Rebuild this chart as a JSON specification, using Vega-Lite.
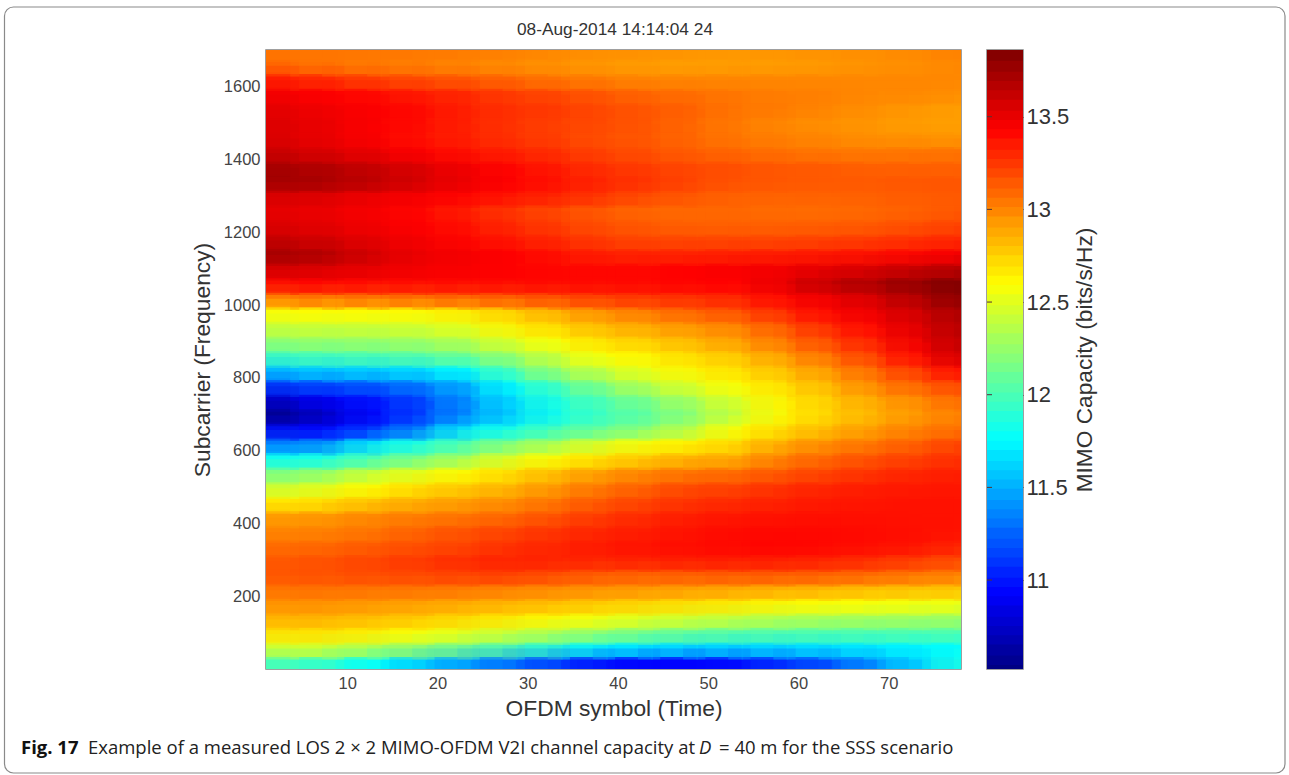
{"$schema":"https://vega.github.io/schema/vega-lite/v6.json","padding":{"left":3,"top":5,"right":3,"bottom":1},"background":"white","bounds":"flush","spacing":26,
"config":{"view":{"stroke":"#808080","strokeWidth":1.5},"font":"Liberation Sans"},
"datasets":{"levels":[{"c":10.53},{"c":10.58},{"c":10.63},{"c":10.69},{"c":10.74},{"c":10.79},{"c":10.84},{"c":10.9},{"c":10.95},{"c":11.0},{"c":11.05},{"c":11.11},{"c":11.16},{"c":11.21},{"c":11.26},{"c":11.32},{"c":11.37},{"c":11.42},{"c":11.47},{"c":11.53},{"c":11.58},{"c":11.63},{"c":11.68},{"c":11.74},{"c":11.79},{"c":11.84},{"c":11.89},{"c":11.95},{"c":12.0},{"c":12.05},{"c":12.1},{"c":12.16},{"c":12.21},{"c":12.26},{"c":12.31},{"c":12.37},{"c":12.42},{"c":12.47},{"c":12.52},{"c":12.58},{"c":12.63},{"c":12.68},{"c":12.73},{"c":12.79},{"c":12.84},{"c":12.89},{"c":12.94},{"c":13.0},{"c":13.05},{"c":13.1},{"c":13.15},{"c":13.21},{"c":13.26},{"c":13.31},{"c":13.36},{"c":13.42},{"c":13.47},{"c":13.52},{"c":13.57},{"c":13.63},{"c":13.68},{"c":13.73},{"c":13.78},{"c":13.84}],
"cells":[
{"x":3,"y":20,"v":12.0},{"x":8,"y":20,"v":11.92},{"x":13,"y":20,"v":11.78},{"x":18,"y":20,"v":11.6},{"x":23,"y":20,"v":11.45},{"x":28,"y":20,"v":11.3},{"x":33,"y":20,"v":11.15},{"x":38,"y":20,"v":11.0},{"x":43,"y":20,"v":10.95},{"x":48,"y":20,"v":10.95},{"x":53,"y":20,"v":10.98},{"x":58,"y":20,"v":11.1},{"x":63,"y":20,"v":11.2},{"x":68,"y":20,"v":11.4},{"x":73,"y":20,"v":11.62},{"x":78,"y":20,"v":11.85},
{"x":3,"y":60,"v":12.52},{"x":8,"y":60,"v":12.47},{"x":13,"y":60,"v":12.38},{"x":18,"y":60,"v":12.28},{"x":23,"y":60,"v":12.15},{"x":28,"y":60,"v":12.03},{"x":33,"y":60,"v":11.9},{"x":38,"y":60,"v":11.78},{"x":43,"y":60,"v":11.72},{"x":48,"y":60,"v":11.68},{"x":53,"y":60,"v":11.67},{"x":58,"y":60,"v":11.68},{"x":63,"y":60,"v":11.7},{"x":68,"y":60,"v":11.72},{"x":73,"y":60,"v":11.75},{"x":78,"y":60,"v":11.78},
{"x":3,"y":100,"v":12.72},{"x":8,"y":100,"v":12.7},{"x":13,"y":100,"v":12.66},{"x":18,"y":100,"v":12.6},{"x":23,"y":100,"v":12.53},{"x":28,"y":100,"v":12.45},{"x":33,"y":100,"v":12.36},{"x":38,"y":100,"v":12.27},{"x":43,"y":100,"v":12.18},{"x":48,"y":100,"v":12.12},{"x":53,"y":100,"v":12.08},{"x":58,"y":100,"v":12.06},{"x":63,"y":100,"v":12.05},{"x":68,"y":100,"v":12.05},{"x":73,"y":100,"v":12.05},{"x":78,"y":100,"v":12.05},
{"x":3,"y":140,"v":12.88},{"x":8,"y":140,"v":12.86},{"x":13,"y":140,"v":12.83},{"x":18,"y":140,"v":12.8},{"x":23,"y":140,"v":12.74},{"x":28,"y":140,"v":12.68},{"x":33,"y":140,"v":12.63},{"x":38,"y":140,"v":12.58},{"x":43,"y":140,"v":12.52},{"x":48,"y":140,"v":12.47},{"x":53,"y":140,"v":12.43},{"x":58,"y":140,"v":12.38},{"x":63,"y":140,"v":12.35},{"x":68,"y":140,"v":12.33},{"x":73,"y":140,"v":12.32},{"x":78,"y":140,"v":12.3},
{"x":3,"y":180,"v":12.98},{"x":8,"y":180,"v":12.97},{"x":13,"y":180,"v":12.95},{"x":18,"y":180,"v":12.93},{"x":23,"y":180,"v":12.9},{"x":28,"y":180,"v":12.87},{"x":33,"y":180,"v":12.84},{"x":38,"y":180,"v":12.8},{"x":43,"y":180,"v":12.76},{"x":48,"y":180,"v":12.72},{"x":53,"y":180,"v":12.68},{"x":58,"y":180,"v":12.64},{"x":63,"y":180,"v":12.62},{"x":68,"y":180,"v":12.6},{"x":73,"y":180,"v":12.58},{"x":78,"y":180,"v":12.57},
{"x":3,"y":220,"v":13.08},{"x":8,"y":220,"v":13.08},{"x":13,"y":220,"v":13.07},{"x":18,"y":220,"v":13.07},{"x":23,"y":220,"v":13.06},{"x":28,"y":220,"v":13.03},{"x":33,"y":220,"v":13.0},{"x":38,"y":220,"v":12.98},{"x":43,"y":220,"v":12.96},{"x":48,"y":220,"v":12.94},{"x":53,"y":220,"v":12.92},{"x":58,"y":220,"v":12.9},{"x":63,"y":220,"v":12.88},{"x":68,"y":220,"v":12.85},{"x":73,"y":220,"v":12.83},{"x":78,"y":220,"v":12.82},
{"x":3,"y":260,"v":13.17},{"x":8,"y":260,"v":13.18},{"x":13,"y":260,"v":13.2},{"x":18,"y":260,"v":13.22},{"x":23,"y":260,"v":13.24},{"x":28,"y":260,"v":13.25},{"x":33,"y":260,"v":13.2},{"x":38,"y":260,"v":13.16},{"x":43,"y":260,"v":13.14},{"x":48,"y":260,"v":13.16},{"x":53,"y":260,"v":13.17},{"x":58,"y":260,"v":13.17},{"x":63,"y":260,"v":13.15},{"x":68,"y":260,"v":13.12},{"x":73,"y":260,"v":13.08},{"x":78,"y":260,"v":13.04},
{"x":3,"y":300,"v":13.15},{"x":8,"y":300,"v":13.18},{"x":13,"y":300,"v":13.22},{"x":18,"y":300,"v":13.26},{"x":23,"y":300,"v":13.3},{"x":28,"y":300,"v":13.33},{"x":33,"y":300,"v":13.33},{"x":38,"y":300,"v":13.33},{"x":43,"y":300,"v":13.35},{"x":48,"y":300,"v":13.36},{"x":53,"y":300,"v":13.36},{"x":58,"y":300,"v":13.36},{"x":63,"y":300,"v":13.34},{"x":68,"y":300,"v":13.3},{"x":73,"y":300,"v":13.25},{"x":78,"y":300,"v":13.2},
{"x":3,"y":340,"v":13.08},{"x":8,"y":340,"v":13.1},{"x":13,"y":340,"v":13.14},{"x":18,"y":340,"v":13.18},{"x":23,"y":340,"v":13.22},{"x":28,"y":340,"v":13.28},{"x":33,"y":340,"v":13.32},{"x":38,"y":340,"v":13.36},{"x":43,"y":340,"v":13.38},{"x":48,"y":340,"v":13.4},{"x":53,"y":340,"v":13.42},{"x":58,"y":340,"v":13.43},{"x":63,"y":340,"v":13.42},{"x":68,"y":340,"v":13.4},{"x":73,"y":340,"v":13.38},{"x":78,"y":340,"v":13.33},
{"x":3,"y":380,"v":13.0},{"x":8,"y":380,"v":13.02},{"x":13,"y":380,"v":13.06},{"x":18,"y":380,"v":13.12},{"x":23,"y":380,"v":13.17},{"x":28,"y":380,"v":13.22},{"x":33,"y":380,"v":13.27},{"x":38,"y":380,"v":13.32},{"x":43,"y":380,"v":13.35},{"x":48,"y":380,"v":13.38},{"x":53,"y":380,"v":13.4},{"x":58,"y":380,"v":13.41},{"x":63,"y":380,"v":13.41},{"x":68,"y":380,"v":13.4},{"x":73,"y":380,"v":13.39},{"x":78,"y":380,"v":13.38},
{"x":3,"y":420,"v":12.92},{"x":8,"y":420,"v":12.95},{"x":13,"y":420,"v":13.0},{"x":18,"y":420,"v":13.03},{"x":23,"y":420,"v":13.06},{"x":28,"y":420,"v":13.1},{"x":33,"y":420,"v":13.17},{"x":38,"y":420,"v":13.25},{"x":43,"y":420,"v":13.3},{"x":48,"y":420,"v":13.35},{"x":53,"y":420,"v":13.37},{"x":58,"y":420,"v":13.38},{"x":63,"y":420,"v":13.39},{"x":68,"y":420,"v":13.39},{"x":73,"y":420,"v":13.38},{"x":78,"y":420,"v":13.38},
{"x":3,"y":460,"v":12.65},{"x":8,"y":460,"v":12.72},{"x":13,"y":460,"v":12.8},{"x":18,"y":460,"v":12.87},{"x":23,"y":460,"v":12.92},{"x":28,"y":460,"v":12.98},{"x":33,"y":460,"v":13.06},{"x":38,"y":460,"v":13.15},{"x":43,"y":460,"v":13.22},{"x":48,"y":460,"v":13.27},{"x":53,"y":460,"v":13.3},{"x":58,"y":460,"v":13.33},{"x":63,"y":460,"v":13.36},{"x":68,"y":460,"v":13.37},{"x":73,"y":460,"v":13.38},{"x":78,"y":460,"v":13.38},
{"x":3,"y":500,"v":12.42},{"x":8,"y":500,"v":12.52},{"x":13,"y":500,"v":12.62},{"x":18,"y":500,"v":12.72},{"x":23,"y":500,"v":12.78},{"x":28,"y":500,"v":12.85},{"x":33,"y":500,"v":12.95},{"x":38,"y":500,"v":13.05},{"x":43,"y":500,"v":13.12},{"x":48,"y":500,"v":13.2},{"x":53,"y":500,"v":13.22},{"x":58,"y":500,"v":13.28},{"x":63,"y":500,"v":13.32},{"x":68,"y":500,"v":13.35},{"x":73,"y":500,"v":13.36},{"x":78,"y":500,"v":13.37},
{"x":3,"y":540,"v":12.15},{"x":8,"y":540,"v":12.26},{"x":13,"y":540,"v":12.42},{"x":18,"y":540,"v":12.52},{"x":23,"y":540,"v":12.62},{"x":28,"y":540,"v":12.72},{"x":33,"y":540,"v":12.82},{"x":38,"y":540,"v":12.92},{"x":43,"y":540,"v":13.0},{"x":48,"y":540,"v":13.05},{"x":53,"y":540,"v":13.08},{"x":58,"y":540,"v":13.15},{"x":63,"y":540,"v":13.22},{"x":68,"y":540,"v":13.27},{"x":73,"y":540,"v":13.32},{"x":78,"y":540,"v":13.34},
{"x":3,"y":580,"v":11.76},{"x":8,"y":580,"v":11.85},{"x":13,"y":580,"v":12.0},{"x":18,"y":580,"v":12.15},{"x":23,"y":580,"v":12.3},{"x":28,"y":580,"v":12.5},{"x":33,"y":580,"v":12.6},{"x":38,"y":580,"v":12.7},{"x":43,"y":580,"v":12.78},{"x":48,"y":580,"v":12.85},{"x":53,"y":580,"v":12.88},{"x":58,"y":580,"v":13.02},{"x":63,"y":580,"v":13.1},{"x":68,"y":580,"v":13.17},{"x":73,"y":580,"v":13.23},{"x":78,"y":580,"v":13.28},
{"x":3,"y":620,"v":11.28},{"x":8,"y":620,"v":11.4},{"x":13,"y":620,"v":11.7},{"x":18,"y":620,"v":11.85},{"x":23,"y":620,"v":12.02},{"x":28,"y":620,"v":12.18},{"x":33,"y":620,"v":12.32},{"x":38,"y":620,"v":12.48},{"x":43,"y":620,"v":12.58},{"x":48,"y":620,"v":12.65},{"x":53,"y":620,"v":12.73},{"x":58,"y":620,"v":12.88},{"x":63,"y":620,"v":12.98},{"x":68,"y":620,"v":13.05},{"x":73,"y":620,"v":13.13},{"x":78,"y":620,"v":13.22},
{"x":3,"y":660,"v":10.88},{"x":8,"y":660,"v":10.95},{"x":13,"y":660,"v":11.1},{"x":18,"y":660,"v":11.35},{"x":23,"y":660,"v":11.7},{"x":28,"y":660,"v":11.82},{"x":33,"y":660,"v":11.98},{"x":38,"y":660,"v":12.08},{"x":43,"y":660,"v":12.2},{"x":48,"y":660,"v":12.38},{"x":53,"y":660,"v":12.6},{"x":58,"y":660,"v":12.72},{"x":63,"y":660,"v":12.83},{"x":68,"y":660,"v":12.93},{"x":73,"y":660,"v":13.02},{"x":78,"y":660,"v":13.07},
{"x":3,"y":700,"v":10.55},{"x":8,"y":700,"v":10.78},{"x":13,"y":700,"v":10.96},{"x":18,"y":700,"v":11.14},{"x":23,"y":700,"v":11.38},{"x":28,"y":700,"v":11.6},{"x":33,"y":700,"v":11.82},{"x":38,"y":700,"v":11.97},{"x":43,"y":700,"v":12.08},{"x":48,"y":700,"v":12.22},{"x":53,"y":700,"v":12.42},{"x":58,"y":700,"v":12.63},{"x":63,"y":700,"v":12.75},{"x":68,"y":700,"v":12.85},{"x":73,"y":700,"v":12.95},{"x":78,"y":700,"v":13.02},
{"x":3,"y":740,"v":10.8},{"x":8,"y":740,"v":10.92},{"x":13,"y":740,"v":11.02},{"x":18,"y":740,"v":11.18},{"x":23,"y":740,"v":11.42},{"x":28,"y":740,"v":11.66},{"x":33,"y":740,"v":11.88},{"x":38,"y":740,"v":12.03},{"x":43,"y":740,"v":12.18},{"x":48,"y":740,"v":12.33},{"x":53,"y":740,"v":12.5},{"x":58,"y":740,"v":12.66},{"x":63,"y":740,"v":12.78},{"x":68,"y":740,"v":12.9},{"x":73,"y":740,"v":13.0},{"x":78,"y":740,"v":13.1},
{"x":3,"y":780,"v":11.15},{"x":8,"y":780,"v":11.2},{"x":13,"y":780,"v":11.25},{"x":18,"y":780,"v":11.35},{"x":23,"y":780,"v":11.52},{"x":28,"y":780,"v":11.78},{"x":33,"y":780,"v":12.0},{"x":38,"y":780,"v":12.2},{"x":43,"y":780,"v":12.38},{"x":48,"y":780,"v":12.5},{"x":53,"y":780,"v":12.62},{"x":58,"y":780,"v":12.72},{"x":63,"y":780,"v":12.85},{"x":68,"y":780,"v":13.0},{"x":73,"y":780,"v":13.12},{"x":78,"y":780,"v":13.22},
{"x":3,"y":820,"v":11.6},{"x":8,"y":820,"v":11.62},{"x":13,"y":820,"v":11.64},{"x":18,"y":820,"v":11.68},{"x":23,"y":820,"v":11.78},{"x":28,"y":820,"v":12.03},{"x":33,"y":820,"v":12.28},{"x":38,"y":820,"v":12.42},{"x":43,"y":820,"v":12.55},{"x":48,"y":820,"v":12.65},{"x":53,"y":820,"v":12.72},{"x":58,"y":820,"v":12.82},{"x":63,"y":820,"v":12.95},{"x":68,"y":820,"v":13.1},{"x":73,"y":820,"v":13.26},{"x":78,"y":820,"v":13.42},
{"x":3,"y":860,"v":12.0},{"x":8,"y":860,"v":12.02},{"x":13,"y":860,"v":12.04},{"x":18,"y":860,"v":12.08},{"x":23,"y":860,"v":12.16},{"x":28,"y":860,"v":12.28},{"x":33,"y":860,"v":12.45},{"x":38,"y":860,"v":12.6},{"x":43,"y":860,"v":12.65},{"x":48,"y":860,"v":12.73},{"x":53,"y":860,"v":12.8},{"x":58,"y":860,"v":12.93},{"x":63,"y":860,"v":13.08},{"x":68,"y":860,"v":13.24},{"x":73,"y":860,"v":13.42},{"x":78,"y":860,"v":13.6},
{"x":3,"y":900,"v":12.27},{"x":8,"y":900,"v":12.27},{"x":13,"y":900,"v":12.28},{"x":18,"y":900,"v":12.3},{"x":23,"y":900,"v":12.36},{"x":28,"y":900,"v":12.5},{"x":33,"y":900,"v":12.6},{"x":38,"y":900,"v":12.72},{"x":43,"y":900,"v":12.78},{"x":48,"y":900,"v":12.85},{"x":53,"y":900,"v":12.93},{"x":58,"y":900,"v":13.06},{"x":63,"y":900,"v":13.2},{"x":68,"y":900,"v":13.34},{"x":73,"y":900,"v":13.5},{"x":78,"y":900,"v":13.65},
{"x":3,"y":940,"v":12.44},{"x":8,"y":940,"v":12.44},{"x":13,"y":940,"v":12.45},{"x":18,"y":940,"v":12.47},{"x":23,"y":940,"v":12.53},{"x":28,"y":940,"v":12.66},{"x":33,"y":940,"v":12.74},{"x":38,"y":940,"v":12.84},{"x":43,"y":940,"v":12.9},{"x":48,"y":940,"v":12.96},{"x":53,"y":940,"v":13.02},{"x":58,"y":940,"v":13.15},{"x":63,"y":940,"v":13.3},{"x":68,"y":940,"v":13.42},{"x":73,"y":940,"v":13.55},{"x":78,"y":940,"v":13.68},
{"x":3,"y":980,"v":12.62},{"x":8,"y":980,"v":12.62},{"x":13,"y":980,"v":12.62},{"x":18,"y":980,"v":12.63},{"x":23,"y":980,"v":12.68},{"x":28,"y":980,"v":12.78},{"x":33,"y":980,"v":12.88},{"x":38,"y":980,"v":12.98},{"x":43,"y":980,"v":13.05},{"x":48,"y":980,"v":13.12},{"x":53,"y":980,"v":13.18},{"x":58,"y":980,"v":13.3},{"x":63,"y":980,"v":13.42},{"x":68,"y":980,"v":13.5},{"x":73,"y":980,"v":13.6},{"x":78,"y":980,"v":13.72},
{"x":3,"y":1020,"v":13.1},{"x":8,"y":1020,"v":13.1},{"x":13,"y":1020,"v":13.12},{"x":18,"y":1020,"v":13.14},{"x":23,"y":1020,"v":13.16},{"x":28,"y":1020,"v":13.18},{"x":33,"y":1020,"v":13.22},{"x":38,"y":1020,"v":13.26},{"x":43,"y":1020,"v":13.28},{"x":48,"y":1020,"v":13.3},{"x":53,"y":1020,"v":13.33},{"x":58,"y":1020,"v":13.42},{"x":63,"y":1020,"v":13.5},{"x":68,"y":1020,"v":13.58},{"x":73,"y":1020,"v":13.7},{"x":78,"y":1020,"v":13.82},
{"x":3,"y":1060,"v":13.45},{"x":8,"y":1060,"v":13.44},{"x":13,"y":1060,"v":13.42},{"x":18,"y":1060,"v":13.42},{"x":23,"y":1060,"v":13.42},{"x":28,"y":1060,"v":13.42},{"x":33,"y":1060,"v":13.42},{"x":38,"y":1060,"v":13.42},{"x":43,"y":1060,"v":13.42},{"x":48,"y":1060,"v":13.44},{"x":53,"y":1060,"v":13.44},{"x":58,"y":1060,"v":13.52},{"x":63,"y":1060,"v":13.65},{"x":68,"y":1060,"v":13.72},{"x":73,"y":1060,"v":13.8},{"x":78,"y":1060,"v":13.86},
{"x":3,"y":1100,"v":13.6},{"x":8,"y":1100,"v":13.56},{"x":13,"y":1100,"v":13.52},{"x":18,"y":1100,"v":13.48},{"x":23,"y":1100,"v":13.46},{"x":28,"y":1100,"v":13.44},{"x":33,"y":1100,"v":13.42},{"x":38,"y":1100,"v":13.42},{"x":43,"y":1100,"v":13.42},{"x":48,"y":1100,"v":13.44},{"x":53,"y":1100,"v":13.46},{"x":58,"y":1100,"v":13.48},{"x":63,"y":1100,"v":13.52},{"x":68,"y":1100,"v":13.56},{"x":73,"y":1100,"v":13.62},{"x":78,"y":1100,"v":13.66},
{"x":3,"y":1140,"v":13.75},{"x":8,"y":1140,"v":13.68},{"x":13,"y":1140,"v":13.58},{"x":18,"y":1140,"v":13.5},{"x":23,"y":1140,"v":13.47},{"x":28,"y":1140,"v":13.44},{"x":33,"y":1140,"v":13.38},{"x":38,"y":1140,"v":13.33},{"x":43,"y":1140,"v":13.32},{"x":48,"y":1140,"v":13.32},{"x":53,"y":1140,"v":13.33},{"x":58,"y":1140,"v":13.34},{"x":63,"y":1140,"v":13.36},{"x":68,"y":1140,"v":13.38},{"x":73,"y":1140,"v":13.42},{"x":78,"y":1140,"v":13.46},
{"x":3,"y":1180,"v":13.62},{"x":8,"y":1180,"v":13.58},{"x":13,"y":1180,"v":13.52},{"x":18,"y":1180,"v":13.47},{"x":23,"y":1180,"v":13.42},{"x":28,"y":1180,"v":13.36},{"x":33,"y":1180,"v":13.3},{"x":38,"y":1180,"v":13.24},{"x":43,"y":1180,"v":13.2},{"x":48,"y":1180,"v":13.2},{"x":53,"y":1180,"v":13.2},{"x":58,"y":1180,"v":13.2},{"x":63,"y":1180,"v":13.22},{"x":68,"y":1180,"v":13.24},{"x":73,"y":1180,"v":13.27},{"x":78,"y":1180,"v":13.3},
{"x":3,"y":1220,"v":13.55},{"x":8,"y":1220,"v":13.52},{"x":13,"y":1220,"v":13.48},{"x":18,"y":1220,"v":13.44},{"x":23,"y":1220,"v":13.38},{"x":28,"y":1220,"v":13.3},{"x":33,"y":1220,"v":13.24},{"x":38,"y":1220,"v":13.18},{"x":43,"y":1220,"v":13.14},{"x":48,"y":1220,"v":13.12},{"x":53,"y":1220,"v":13.12},{"x":58,"y":1220,"v":13.12},{"x":63,"y":1220,"v":13.13},{"x":68,"y":1220,"v":13.14},{"x":73,"y":1220,"v":13.18},{"x":78,"y":1220,"v":13.22},
{"x":3,"y":1260,"v":13.52},{"x":8,"y":1260,"v":13.5},{"x":13,"y":1260,"v":13.46},{"x":18,"y":1260,"v":13.42},{"x":23,"y":1260,"v":13.34},{"x":28,"y":1260,"v":13.26},{"x":33,"y":1260,"v":13.2},{"x":38,"y":1260,"v":13.14},{"x":43,"y":1260,"v":13.1},{"x":48,"y":1260,"v":13.1},{"x":53,"y":1260,"v":13.1},{"x":58,"y":1260,"v":13.09},{"x":63,"y":1260,"v":13.09},{"x":68,"y":1260,"v":13.1},{"x":73,"y":1260,"v":13.12},{"x":78,"y":1260,"v":13.15},
{"x":3,"y":1300,"v":13.58},{"x":8,"y":1300,"v":13.55},{"x":13,"y":1300,"v":13.5},{"x":18,"y":1300,"v":13.47},{"x":23,"y":1300,"v":13.43},{"x":28,"y":1300,"v":13.38},{"x":33,"y":1300,"v":13.33},{"x":38,"y":1300,"v":13.27},{"x":43,"y":1300,"v":13.2},{"x":48,"y":1300,"v":13.16},{"x":53,"y":1300,"v":13.12},{"x":58,"y":1300,"v":13.12},{"x":63,"y":1300,"v":13.12},{"x":68,"y":1300,"v":13.13},{"x":73,"y":1300,"v":13.14},{"x":78,"y":1300,"v":13.15},
{"x":3,"y":1340,"v":13.76},{"x":8,"y":1340,"v":13.72},{"x":13,"y":1340,"v":13.66},{"x":18,"y":1340,"v":13.58},{"x":23,"y":1340,"v":13.5},{"x":28,"y":1340,"v":13.44},{"x":33,"y":1340,"v":13.38},{"x":38,"y":1340,"v":13.32},{"x":43,"y":1340,"v":13.27},{"x":48,"y":1340,"v":13.22},{"x":53,"y":1340,"v":13.17},{"x":58,"y":1340,"v":13.16},{"x":63,"y":1340,"v":13.15},{"x":68,"y":1340,"v":13.15},{"x":73,"y":1340,"v":13.16},{"x":78,"y":1340,"v":13.16},
{"x":3,"y":1380,"v":13.72},{"x":8,"y":1380,"v":13.68},{"x":13,"y":1380,"v":13.62},{"x":18,"y":1380,"v":13.55},{"x":23,"y":1380,"v":13.48},{"x":28,"y":1380,"v":13.42},{"x":33,"y":1380,"v":13.35},{"x":38,"y":1380,"v":13.28},{"x":43,"y":1380,"v":13.24},{"x":48,"y":1380,"v":13.2},{"x":53,"y":1380,"v":13.18},{"x":58,"y":1380,"v":13.15},{"x":63,"y":1380,"v":13.14},{"x":68,"y":1380,"v":13.12},{"x":73,"y":1380,"v":13.12},{"x":78,"y":1380,"v":13.12},
{"x":3,"y":1420,"v":13.6},{"x":8,"y":1420,"v":13.55},{"x":13,"y":1420,"v":13.5},{"x":18,"y":1420,"v":13.44},{"x":23,"y":1420,"v":13.38},{"x":28,"y":1420,"v":13.33},{"x":33,"y":1420,"v":13.28},{"x":38,"y":1420,"v":13.22},{"x":43,"y":1420,"v":13.18},{"x":48,"y":1420,"v":13.13},{"x":53,"y":1420,"v":13.1},{"x":58,"y":1420,"v":13.07},{"x":63,"y":1420,"v":13.05},{"x":68,"y":1420,"v":13.04},{"x":73,"y":1420,"v":13.05},{"x":78,"y":1420,"v":13.06},
{"x":3,"y":1460,"v":13.55},{"x":8,"y":1460,"v":13.5},{"x":13,"y":1460,"v":13.45},{"x":18,"y":1460,"v":13.38},{"x":23,"y":1460,"v":13.33},{"x":28,"y":1460,"v":13.27},{"x":33,"y":1460,"v":13.23},{"x":38,"y":1460,"v":13.18},{"x":43,"y":1460,"v":13.15},{"x":48,"y":1460,"v":13.1},{"x":53,"y":1460,"v":13.05},{"x":58,"y":1460,"v":13.02},{"x":63,"y":1460,"v":13.0},{"x":68,"y":1460,"v":12.97},{"x":73,"y":1460,"v":12.96},{"x":78,"y":1460,"v":12.95},
{"x":3,"y":1500,"v":13.55},{"x":8,"y":1500,"v":13.5},{"x":13,"y":1500,"v":13.45},{"x":18,"y":1500,"v":13.4},{"x":23,"y":1500,"v":13.33},{"x":28,"y":1500,"v":13.27},{"x":33,"y":1500,"v":13.23},{"x":38,"y":1500,"v":13.2},{"x":43,"y":1500,"v":13.16},{"x":48,"y":1500,"v":13.1},{"x":53,"y":1500,"v":13.04},{"x":58,"y":1500,"v":13.0},{"x":63,"y":1500,"v":12.97},{"x":68,"y":1500,"v":12.95},{"x":73,"y":1500,"v":12.93},{"x":78,"y":1500,"v":12.92},
{"x":3,"y":1540,"v":13.52},{"x":8,"y":1540,"v":13.48},{"x":13,"y":1540,"v":13.45},{"x":18,"y":1540,"v":13.4},{"x":23,"y":1540,"v":13.33},{"x":28,"y":1540,"v":13.28},{"x":33,"y":1540,"v":13.25},{"x":38,"y":1540,"v":13.2},{"x":43,"y":1540,"v":13.16},{"x":48,"y":1540,"v":13.12},{"x":53,"y":1540,"v":13.06},{"x":58,"y":1540,"v":13.04},{"x":63,"y":1540,"v":13.01},{"x":68,"y":1540,"v":12.98},{"x":73,"y":1540,"v":12.95},{"x":78,"y":1540,"v":12.93},
{"x":3,"y":1580,"v":13.47},{"x":8,"y":1580,"v":13.44},{"x":13,"y":1580,"v":13.4},{"x":18,"y":1580,"v":13.35},{"x":23,"y":1580,"v":13.3},{"x":28,"y":1580,"v":13.24},{"x":33,"y":1580,"v":13.2},{"x":38,"y":1580,"v":13.15},{"x":43,"y":1580,"v":13.1},{"x":48,"y":1580,"v":13.08},{"x":53,"y":1580,"v":13.05},{"x":58,"y":1580,"v":13.03},{"x":63,"y":1580,"v":13.02},{"x":68,"y":1580,"v":13.0},{"x":73,"y":1580,"v":13.0},{"x":78,"y":1580,"v":12.98},
{"x":3,"y":1620,"v":13.33},{"x":8,"y":1620,"v":13.28},{"x":13,"y":1620,"v":13.22},{"x":18,"y":1620,"v":13.18},{"x":23,"y":1620,"v":13.14},{"x":28,"y":1620,"v":13.1},{"x":33,"y":1620,"v":13.05},{"x":38,"y":1620,"v":13.03},{"x":43,"y":1620,"v":13.0},{"x":48,"y":1620,"v":13.0},{"x":53,"y":1620,"v":13.0},{"x":58,"y":1620,"v":13.0},{"x":63,"y":1620,"v":13.0},{"x":68,"y":1620,"v":13.0},{"x":73,"y":1620,"v":13.0},{"x":78,"y":1620,"v":13.0},
{"x":3,"y":1660,"v":13.07},{"x":8,"y":1660,"v":13.05},{"x":13,"y":1660,"v":13.03},{"x":18,"y":1660,"v":13.02},{"x":23,"y":1660,"v":13.0},{"x":28,"y":1660,"v":12.98},{"x":33,"y":1660,"v":12.96},{"x":38,"y":1660,"v":12.94},{"x":43,"y":1660,"v":12.93},{"x":48,"y":1660,"v":12.92},{"x":53,"y":1660,"v":12.93},{"x":58,"y":1660,"v":12.93},{"x":63,"y":1660,"v":12.94},{"x":68,"y":1660,"v":12.96},{"x":73,"y":1660,"v":12.98},{"x":78,"y":1660,"v":13.0},
{"x":3,"y":1700,"v":13.06},{"x":8,"y":1700,"v":13.06},{"x":13,"y":1700,"v":13.06},{"x":18,"y":1700,"v":13.05},{"x":23,"y":1700,"v":13.04},{"x":28,"y":1700,"v":13.03},{"x":33,"y":1700,"v":13.0},{"x":38,"y":1700,"v":12.98},{"x":43,"y":1700,"v":12.97},{"x":48,"y":1700,"v":12.96},{"x":53,"y":1700,"v":12.95},{"x":58,"y":1700,"v":12.96},{"x":63,"y":1700,"v":12.97},{"x":68,"y":1700,"v":12.98},{"x":73,"y":1700,"v":13.0},{"x":78,"y":1700,"v":13.02}
]},
"hconcat":[
{"width":695,"height":619,
"layer":[
{"data":{"name":"cells"},"mark":{"type":"rect","width":46,"height":15.5,"clip":true},
"encoding":{
"x":{"field":"x","type":"quantitative","scale":{"domain":[1,78],"nice":false,"zero":false},"axis":{"values":[10,20,30,40,50,60,70],"format":"d","title":"OFDM symbol (Time)","titleFontSize":22.8,"titleFontWeight":"normal","titleColor":"#333333","titlePadding":6,"labelFontSize":16.5,"labelColor":"#444444","labelPadding":6,"ticks":false,"domain":false,"grid":false}},
"y":{"field":"y","type":"quantitative","scale":{"domain":[1,1700],"nice":false,"zero":false},"axis":{"values":[200,400,600,800,1000,1200,1400,1600],"format":"d","title":"Subcarrier (Frequency)","titleFontSize":22.8,"titleFontWeight":"normal","titleColor":"#333333","titlePadding":9,"labelFontSize":16.5,"labelColor":"#444444","labelPadding":6,"ticks":false,"domain":false,"grid":false}},
"color":{"field":"v","type":"quantitative","legend":null,"scale":{"domain":[10.52,10.94,11.77,12.61,13.44,13.86],"range":["#000080","#0000ff","#00ffff","#ffff00","#ff0000","#800000"],"clamp":true,"interpolate":"rgb"}}}},
{"data":{"name":"cells"},"mark":{"type":"rect","width":92,"height":31,"clip":true,"opacity":0.5,"xOffset":7,"yOffset":-3.6},
"encoding":{
"x":{"field":"x","type":"quantitative"},
"y":{"field":"y","type":"quantitative"},
"color":{"field":"v","type":"quantitative","legend":null,"scale":{"domain":[10.52,10.94,11.77,12.61,13.44,13.86],"range":["#000080","#0000ff","#00ffff","#ffff00","#ff0000","#800000"],"clamp":true,"interpolate":"rgb"}}}},
{"data":{"name":"cells"},"mark":{"type":"rect","width":68,"height":23,"clip":true,"opacity":0.45,"xOffset":4,"yOffset":-2},
"encoding":{
"x":{"field":"x","type":"quantitative"},
"y":{"field":"y","type":"quantitative"},
"color":{"field":"v","type":"quantitative","legend":null,"scale":{"domain":[10.52,10.94,11.77,12.61,13.44,13.86],"range":["#000080","#0000ff","#00ffff","#ffff00","#ff0000","#800000"],"clamp":true,"interpolate":"rgb"}}}},
{"data":{"values":[{"t":"frame"}]},"mark":{"type":"rect","filled":false,"stroke":"#8a8a8a","strokeWidth":1.2,"cornerRadius":9,"clip":false},"encoding":{"x":{"value":-261.5},"x2":{"value":1019},"y":{"value":-43},"y2":{"value":723}}},
{"data":{"values":[{"t":"08-Aug-2014 14:14:04 24"}]},"mark":{"type":"text","fontSize":17.3,"align":"center","baseline":"middle","color":"#333333"},"encoding":{"text":{"field":"t"},"x":{"value":349},"y":{"value":-20}}},
{"data":{"values":[{"t":"Fig. 17"}]},"mark":{"type":"text","font":"Open Sans","fontWeight":"bold","fontSize":18.5,"align":"left","baseline":"middle","color":"#111111"},"encoding":{"text":{"field":"t"},"x":{"value":-245},"y":{"value":698}}},
{"data":{"values":[{"t":"Example of a measured LOS 2 × 2 MIMO-OFDM V2I channel capacity at"}]},"mark":{"type":"text","font":"Open Sans","fontSize":18.5,"align":"left","baseline":"middle","color":"#222222"},"encoding":{"text":{"field":"t"},"x":{"value":-178},"y":{"value":698}}},
{"data":{"values":[{"t":"D"}]},"mark":{"type":"text","font":"Open Sans","fontStyle":"italic","fontSize":18.5,"align":"left","baseline":"middle","color":"#222222"},"encoding":{"text":{"field":"t"},"x":{"value":433},"y":{"value":698}}},
{"data":{"values":[{"t":"= 40 m for the SSS scenario"}]},"mark":{"type":"text","font":"Open Sans","fontSize":18.5,"align":"left","baseline":"middle","color":"#222222"},"encoding":{"text":{"field":"t"},"x":{"value":453},"y":{"value":698}}}
]},
{"width":36,"height":619,
"layer":[
{"data":{"name":"levels"},"mark":{"type":"rect","height":14,"clip":true},
"encoding":{
"y":{"field":"c","type":"quantitative","scale":{"domain":[10.52,13.86],"nice":false,"zero":false},"axis":{"orient":"right","values":[11,11.5,12,12.5,13,13.5],"format":"~g","tickSize":-5,"tickColor":"#553333","labelFontSize":22,"labelColor":"#333333","labelPadding":8,"domain":false,"grid":false,"title":"MIMO Capacity (bits/s/Hz)","titleFontSize":22.7,"titleFontWeight":"normal","titleColor":"#333333","titleAngle":270,"titlePadding":28}},
"color":{"field":"c","type":"quantitative","legend":null,"scale":{"domain":[10.52,10.94,11.77,12.61,13.44,13.86],"range":["#000080","#0000ff","#00ffff","#ffff00","#ff0000","#800000"],"clamp":true,"interpolate":"rgb"}}}},
{"data":{"values":[{"c":11},{"c":11.5},{"c":12},{"c":12.5},{"c":13},{"c":13.5}]},"mark":{"type":"rule","color":"#553333"},
"encoding":{"y":{"field":"c","type":"quantitative"},"x":{"value":0},"x2":{"value":5}}}
]}
]}
